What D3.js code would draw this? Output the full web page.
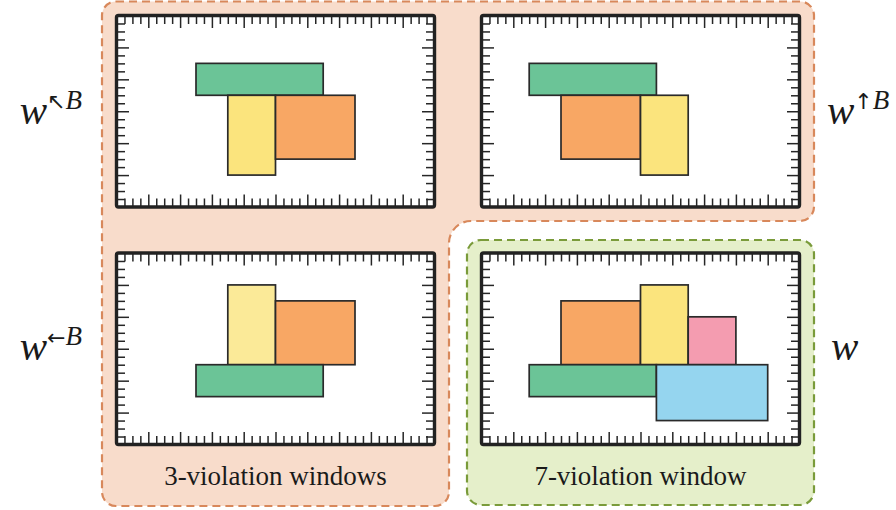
<!DOCTYPE html>
<html>
<head>
<meta charset="utf-8">
<style>
	body { margin: 0; background: #fff; }
	svg { display: block; }
	.caption { font-family: 'Liberation Serif', 'Times New Roman', 'DejaVu Serif', serif; font-size: 27px; fill: #1a1a1a; }
	.math { font-family: 'Liberation Serif', 'Times New Roman', 'DejaVu Serif', serif; font-style: italic; fill: #1a1a1a; }
	.arrow { font-family: 'DejaVu Sans', sans-serif; font-style: normal; }
</style>
</head>
<body>
<script src="https://cdn.jsdelivr.net/npm/d3@7"></script>
<script>

// boxes in window units (1 unit = one minor tick); each window spans x -4..36, y -4..20
var topLeftBoxes = [
	{ shape: "green", x0: 6, x1: 22, y0: 2, y1: 6 },
	{ shape: "yellow", x0: 10, x1: 16, y0: 6, y1: 16 },
	{ shape: "orange", x0: 16, x1: 26, y0: 6, y1: 14 }
];
var topRightBoxes = [
	{ shape: "green", x0: 2, x1: 18, y0: 2, y1: 6 },
	{ shape: "orange", x0: 6, x1: 16, y0: 6, y1: 14 },
	{ shape: "yellow", x0: 16, x1: 22, y0: 6, y1: 16 }
];
var bottomLeftBoxes = [
	{ shape: "paleyellow", x0: 10, x1: 16, y0: 0, y1: 10 },
	{ shape: "orange", x0: 16, x1: 26, y0: 2, y1: 10 },
	{ shape: "green", x0: 6, x1: 22, y0: 10, y1: 14 }
];
var bottomRightBoxes = [
	{ shape: "orange", x0: 6, x1: 16, y0: 2, y1: 10 },
	{ shape: "yellow", x0: 16, x1: 22, y0: 0, y1: 10 },
	{ shape: "pink", x0: 22, x1: 28, y0: 4, y1: 10 },
	{ shape: "green", x0: 2, x1: 18, y0: 10, y1: 14 },
	{ shape: "blue", x0: 18, x1: 32, y0: 10, y1: 17 }
];

var shapeNames = ["green", "yellow", "paleyellow", "orange", "pink", "blue"];
var shapeColors = ["#6bc497", "#fbe47d", "#fbea98", "#f8a764", "#f49cb0", "#95d5ef"];

var sideArrows = ["\u2196", "\u2191", "\u2190", ""];
var captions = ["3-violation windows", "7-violation window"];

var color = d3.scaleOrdinal().domain(shapeNames).range(shapeColors);

var svg = d3.select("body").append("svg")
	.attr("width", 896)
	.attr("height", 510);

// background groups
var r = 14, R = 22;
var orangePath = "M" + (102 + r) + ",1.5 H" + (814 - r) +
	" A" + r + "," + r + " 0 0 1 814," + (1.5 + r) +
	" V" + (221 - r) + " A" + r + "," + r + " 0 0 1 " + (814 - r) + ",221" +
	" H" + (449 + R) + " A" + R + "," + R + " 0 0 0 449," + (221 + R) +
	" V" + (506 - r) + " A" + r + "," + r + " 0 0 1 " + (449 - r) + ",506" +
	" H" + (102 + r) + " A" + r + "," + r + " 0 0 1 102," + (506 - r) +
	" V" + (1.5 + r) + " A" + r + "," + r + " 0 0 1 " + (102 + r) + ",1.5 Z";

svg.append("path")
	.attr("d", orangePath)
	.attr("fill", "#f8dccb")
	.attr("stroke", "#d8885b")
	.attr("stroke-width", 2.2)
	.attr("stroke-dasharray", "8,5");

svg.append("rect")
	.attr("x", 467).attr("y", 240)
	.attr("width", 814 - 467).attr("height", 505 - 240)
	.attr("rx", 14)
	.attr("fill", "#e5efca")
	.attr("stroke", "#7a9b3a")
	.attr("stroke-width", 2.2)
	.attr("stroke-dasharray", "8,5");

var panels = [
	{ boxes: topLeftBoxes, xr: [116.5, 434.5], yr: [15.5, 207] },
	{ boxes: topRightBoxes, xr: [481.5, 799.5], yr: [15.5, 207] },
	{ boxes: bottomLeftBoxes, xr: [116.5, 434.5], yr: [253, 444.5] },
	{ boxes: bottomRightBoxes, xr: [481.5, 799.5], yr: [253, 444.5] }
];

var xMinor = d3.range(-3, 36).filter(function (v) { return v % 4 != 0; });
var xMajor = d3.range(0, 36, 4);
var yMinor = d3.range(-3, 20).filter(function (v) { return v % 4 != 0; });
var yMajor = d3.range(0, 20, 4);

function ticks(g, axis, vals, size, transform) {
	g.append("g")
		.attr("transform", transform)
		.attr("color", "#262626")
		.call(axis.tickValues(vals).tickSize(size).tickSizeOuter(0).tickFormat(""))
		.call(function (a) { a.select(".domain").remove(); })
		.selectAll("line").attr("stroke-width", 1.5);
}

panels.forEach(function (p) {
	var x = d3.scaleLinear().domain([-4, 36]).range(p.xr);
	var y = d3.scaleLinear().domain([-4, 20]).range(p.yr);
	var g = svg.append("g");

	g.append("rect")
		.attr("x", x(-4)).attr("y", y(-4))
		.attr("width", x(36) - x(-4)).attr("height", y(20) - y(-4))
		.attr("fill", "#fff");

	ticks(g, d3.axisBottom(x), xMinor, 8.5, "translate(0," + y(-4) + ")");
	ticks(g, d3.axisBottom(x), xMajor, 12.5, "translate(0," + y(-4) + ")");
	ticks(g, d3.axisTop(x), xMinor, 8.5, "translate(0," + y(20) + ")");
	ticks(g, d3.axisTop(x), xMajor, 12.5, "translate(0," + y(20) + ")");
	ticks(g, d3.axisRight(y), yMinor, 8.5, "translate(" + x(-4) + ",0)");
	ticks(g, d3.axisRight(y), yMajor, 12.5, "translate(" + x(-4) + ",0)");
	ticks(g, d3.axisLeft(y), yMinor, 8.5, "translate(" + x(36) + ",0)");
	ticks(g, d3.axisLeft(y), yMajor, 12.5, "translate(" + x(36) + ",0)");

	g.selectAll("rect.box")
		.data(p.boxes)
		.enter().append("rect")
		.attr("class", "box")
		.attr("x", function (d) { return x(d.x0); })
		.attr("y", function (d) { return y(d.y0); })
		.attr("width", function (d) { return x(d.x1) - x(d.x0); })
		.attr("height", function (d) { return y(d.y1) - y(d.y0); })
		.attr("fill", function (d) { return color(d.shape); })
		.attr("stroke", "#2a2a2a")
		.attr("stroke-width", 1.7);

	g.append("rect")
		.attr("x", x(-4)).attr("y", y(-4))
		.attr("width", x(36) - x(-4)).attr("height", y(20) - y(-4))
		.attr("rx", 2)
		.attr("fill", "none")
		.attr("stroke", "#222")
		.attr("stroke-width", 3.4);
});

// side labels w^{arrow B}
var labelPos = [
	{ x: 82, y: 124, anchor: "end" },
	{ x: 827, y: 124, anchor: "start" },
	{ x: 82, y: 360, anchor: "end" },
	{ x: 831, y: 360, anchor: "start" }
];

labelPos.forEach(function (p, i) {
	var t = svg.append("text")
		.attr("class", "math")
		.attr("x", p.x).attr("y", p.y)
		.attr("text-anchor", p.anchor);
	t.append("tspan").attr("font-size", 41).text("w");
	if (sideArrows[i]) {
		t.append("tspan").attr("class", "arrow").attr("font-size", 22)
			.attr("dy", -15).text(sideArrows[i]);
		t.append("tspan").attr("font-size", 27).text("B");
	}
});

svg.selectAll("text.caption")
	.data(captions)
	.enter().append("text")
	.attr("class", "caption")
	.attr("x", function (d, i) { return i == 0 ? 275.5 : 640.5; })
	.attr("y", 485)
	.attr("text-anchor", "middle")
	.text(function (d) { return d; });

</script>
</body>
</html>
